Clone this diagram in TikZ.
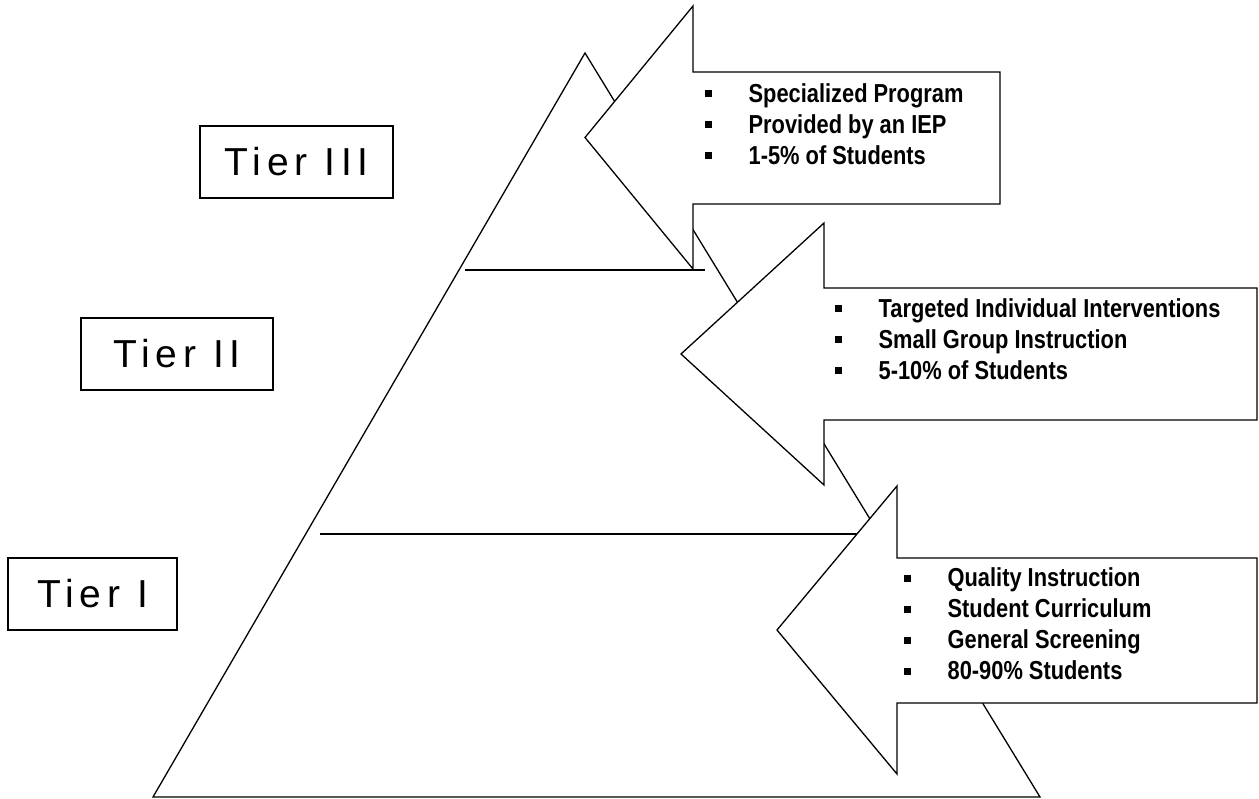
\documentclass[tikz,border=0pt]{standalone}
\usepackage{fontspec}
\setmainfont{Liberation Sans}
\newfontfamily\listfont[FakeStretch=0.84]{Liberation Sans}
\newfontfamily\tierfont[LetterSpace=15]{Liberation Sans}
\newcommand{\sqbullet}{\rule[5pt]{7pt}{7pt}}
\begin{document}
\begin{tikzpicture}[x=1pt,y=-1pt,line width=1.3pt]
\tikzset{
  tierbox/.style={draw, line width=1.3pt, inner sep=0pt, align=center,
    font=\tierfont\fontsize{39}{46}\selectfont},
  arrowshape/.style={draw, fill=white, line join=miter, line width=1.3pt},
  itemlist/.style={anchor=west, inner sep=0pt,
    font=\listfont\bfseries\fontsize{26}{31}\selectfont},
  tierline/.style={line width=1.3pt}
}
\useasboundingbox (0,0) rectangle (1259,799);
\fill[white] (0,0) rectangle (1259,799);

% pyramid
\coordinate (bl) at (153,797);
\coordinate (apex) at (585,53);
\coordinate (br) at (1040,797);
\draw[line join=miter] (bl) -- (apex) -- (br) -- cycle;

% tier dividers
\coordinate (l3a) at (465,270);
\coordinate (l3b) at (705,270);
\coordinate (l1a) at (320,534);
\coordinate (l1b) at (880,534);
\draw[tierline] (l3a) -- (l3b);
\draw[tierline] (l1a) -- (l1b);

% arrows
\draw[arrowshape] (1000,72) -- (693,72) -- (693,6) -- (585,137.5) -- (693,269) -- (693,204) -- (1000,204) -- cycle;
\draw[arrowshape] (1257,288) -- (824,288) -- (824,223) -- (681,354) -- (824,485) -- (824,420) -- (1257,420) -- cycle;
\draw[arrowshape] (1257,558) -- (897,558) -- (897,486) -- (777,630) -- (897,774) -- (897,703) -- (1257,703) -- cycle;

% lists
\node[itemlist] (list3) at (704,127) {\begin{tabular}{@{}l@{\hspace{37pt}}l@{}}
\sqbullet & Specialized Program\\
\sqbullet & Provided by an IEP\\
\sqbullet & 1-5\% of Students
\end{tabular}};
\node[itemlist] (list2) at (834,342) {\begin{tabular}{@{}l@{\hspace{37pt}}l@{}}
\sqbullet & Targeted Individual Interventions\\
\sqbullet & Small Group Instruction\\
\sqbullet & 5-10\% of Students
\end{tabular}};
\node[itemlist] (list1) at (903,627) {\begin{tabular}{@{}l@{\hspace{37pt}}l@{}}
\sqbullet & Quality Instruction\\
\sqbullet & Student Curriculum\\
\sqbullet & General Screening\\
\sqbullet & 80-90\% Students
\end{tabular}};

% tier labels
\node[tierbox, minimum width=193pt, minimum height=72pt] (t3) at (296.5,162) {\raisebox{-4pt}{Tier III}};
\node[tierbox, minimum width=192pt, minimum height=72pt] (t2) at (177,354) {\raisebox{-2pt}{Tier II}};
\node[tierbox, minimum width=169pt, minimum height=72pt] (t1) at (92.5,594) {\raisebox{-1pt}{Tier I}};
\end{tikzpicture}
\end{document}
